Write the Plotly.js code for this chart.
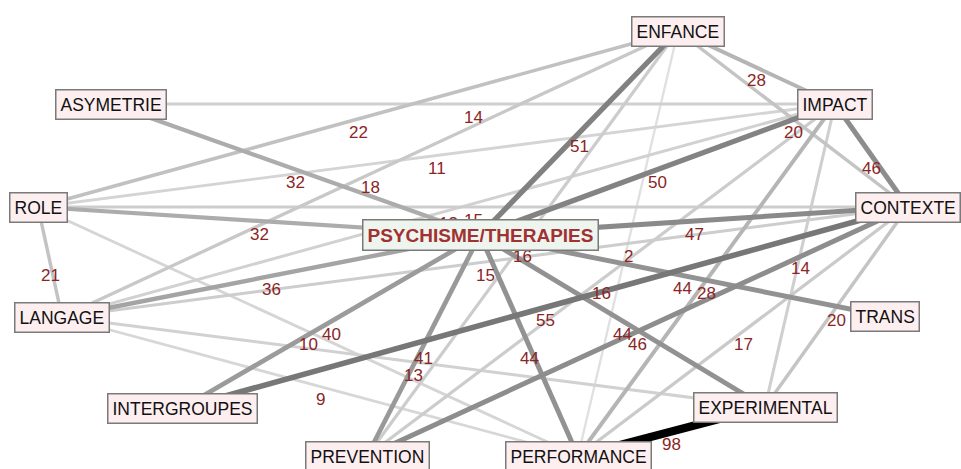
<!DOCTYPE html>
<html>
<head>
<meta charset="utf-8">
<script src="https://cdn.plot.ly/plotly-3.0.1.min.js"></script>
<style>html,body{margin:0;padding:0;background:#fff;}#chart{width:961px;height:469px;}</style>
</head>
<body>
<div id="chart"></div>
<script>
// Nodes (layout coordinates)
const nodeNames = ["ENFANCE","ASYMETRIE","IMPACT","ROLE","CONTEXTE","PSYCHISME/THERAPIES","LANGAGE","TRANS","INTERGROUPES","EXPERIMENTAL","PREVENTION","PERFORMANCE"];
const nodeX = [678,111,835,38,908,480,62,885,182,765,367,578];
const nodeY = [31,104,104,207,207,235,317,316,408,407,456,456];

// Edges: source, target, weight (co-occurrence index)
const edgeSource = ["ENFANCE","ENFANCE","ASYMETRIE","ENFANCE","ENFANCE","IMPACT","ASYMETRIE","ENFANCE","IMPACT","IMPACT","ROLE","IMPACT","ROLE","CONTEXTE","ROLE","PSYCHISME/THERAPIES","CONTEXTE","ENFANCE","ENFANCE","IMPACT","IMPACT","PSYCHISME/THERAPIES","IMPACT","CONTEXTE","CONTEXTE","PSYCHISME/THERAPIES","CONTEXTE","PSYCHISME/THERAPIES","ROLE","PSYCHISME/THERAPIES","LANGAGE","PSYCHISME/THERAPIES","CONTEXTE","LANGAGE","EXPERIMENTAL"];
const edgeTarget = ["IMPACT","ROLE","IMPACT","PSYCHISME/THERAPIES","CONTEXTE","CONTEXTE","PSYCHISME/THERAPIES","LANGAGE","ROLE","PSYCHISME/THERAPIES","PSYCHISME/THERAPIES","LANGAGE","CONTEXTE","PSYCHISME/THERAPIES","LANGAGE","LANGAGE","LANGAGE","PREVENTION","PERFORMANCE","EXPERIMENTAL","PREVENTION","TRANS","PERFORMANCE","EXPERIMENTAL","INTERGROUPES","EXPERIMENTAL","PREVENTION","INTERGROUPES","PERFORMANCE","PREVENTION","EXPERIMENTAL","PERFORMANCE","PERFORMANCE","PERFORMANCE","PERFORMANCE"];
const edgeWeight = [28,22,14,51,20,46,32,18,11,50,32,13,15,47,21,36,15,16,2,14,16,44,28,20,55,44,46,40,10,41,13,44,17,9,98];

const maxW = Math.max(...edgeWeight);
function edgeColor(w){
  const g = Math.round(225*(1-Math.pow(w/maxW,1.3)));
  return `rgb(${g},${g},${g})`;
}
function edgeWidth(w){ return 2.2 + 6*w/maxW; }

const idx = n => nodeNames.indexOf(n);
const order = edgeWeight.map((w,i)=>i).sort((a,b)=>edgeWeight[a]-edgeWeight[b]);

const traces = order.map(i=>{
  const a = idx(edgeSource[i]), b = idx(edgeTarget[i]);
  return {
    type:'scatter', mode:'lines', hoverinfo:'skip', showlegend:false,
    x:[nodeX[a],nodeX[b]], y:[nodeY[a],nodeY[b]],
    line:{color:edgeColor(edgeWeight[i]), width:edgeWidth(edgeWeight[i])}
  };
});

const annotations = [];
edgeWeight.forEach((w,i)=>{
  const a = idx(edgeSource[i]), b = idx(edgeTarget[i]);
  annotations.push({
    x:(nodeX[a]+nodeX[b])/2, y:(nodeY[a]+nodeY[b])/2, yshift:-13,
    text:String(w), showarrow:false,
    font:{family:'Liberation Sans, Arial, sans-serif', size:17, color:'#8b2525'}
  });
});
nodeNames.forEach((n,i)=>{
  const central = n === "PSYCHISME/THERAPIES";
  annotations.push({
    x:nodeX[i], y:nodeY[i], text: central ? '<b>'+n+'</b>' : n, showarrow:false,
    bgcolor: central ? '#eef4ee' : '#fdeef0',
    bordercolor:'#7a7a7a', borderwidth:1.5, borderpad:4,
    font:{family:'Liberation Sans, Arial, sans-serif', size: central ? 19 : 17.5, color: central ? '#a03232' : '#111111'}
  });
});

const layout = {
  width:961, height:469,
  margin:{l:0,r:0,t:0,b:0},
  paper_bgcolor:'#ffffff', plot_bgcolor:'#ffffff',
  xaxis:{range:[0,961], visible:false, fixedrange:true},
  yaxis:{range:[469,0], visible:false, fixedrange:true},
  showlegend:false,
  annotations:annotations
};
Plotly.newPlot('chart', traces, layout, {displayModeBar:false, staticPlot:true});
</script>
</body>
</html>
